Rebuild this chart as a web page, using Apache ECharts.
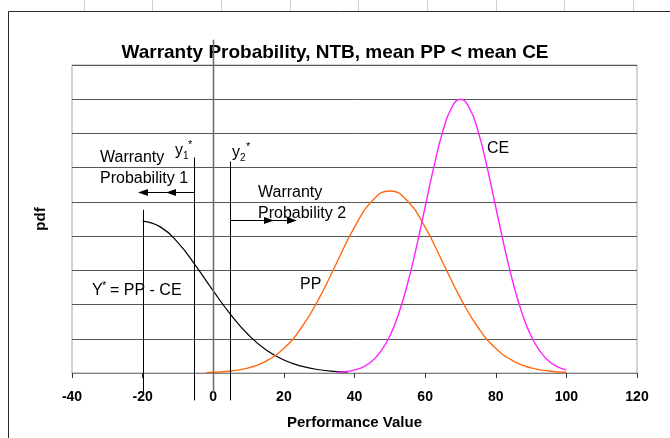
<!DOCTYPE html>
<html>
<head>
<meta charset="utf-8">
<script src="https://cdn.jsdelivr.net/npm/echarts@6/dist/echarts.min.js"></script>
<style>
  html, body { margin: 0; padding: 0; background: #fff; }
  #chart { width: 670px; height: 438px; }
</style>
</head>
<body>
<div id="chart"></div>
<script>
// values (y in gridline units, 9 bands)
const yStarX = [-20, -15, -10, -5, 0, 5, 10, 15, 20, 25, 30, 35, 38]
const yStarY = [4.44, 4.27, 3.81, 3.14, 2.40, 1.70, 1.11, 0.67, 0.38, 0.20, 0.095, 0.042, 0.025]

const ppX = [-2, 0, 5, 10, 15, 20, 25, 30, 35, 40, 45, 50, 55, 60, 65, 70, 75, 80, 85, 90, 95, 100]
const ppY = [0.01, 0.02, 0.06, 0.15, 0.35, 0.72, 1.33, 2.19, 3.23, 4.26, 5.03, 5.32, 5.03, 4.26, 3.23, 2.19, 1.33, 0.72, 0.35, 0.15, 0.06, 0.02]

const ceX = [35, 37.5, 40, 42.5, 45, 47.5, 50, 52.5, 55, 57.5, 60, 62.5, 65, 67.5, 70, 72.5, 75, 77.5, 80, 82.5, 85, 87.5, 90, 92.5, 95, 97.5, 100]
const ceY = [0.02, 0.04, 0.09, 0.18, 0.35, 0.64, 1.08, 1.73, 2.60, 3.66, 4.85, 6.04, 7.06, 7.75, 8.00, 7.75, 7.06, 6.04, 4.85, 3.66, 2.60, 1.73, 1.08, 0.64, 0.35, 0.18, 0.09]

const xMin = -40, xMax = 120, xStep = 20
const yMax = 9
const y1Star = -5.5
const y2Star = 4.8

const font = '"Liberation Sans", Arial, sans-serif'
const toPairs = (xs, ys) => xs.map((x, i) => [x, ys[i]])

const chart = echarts.init(document.getElementById('chart'))

const option = {
  animation: false,
  title: {
    text: 'Warranty Probability, NTB, mean PP < mean CE',
    left: 'center',
    top: 38,
    textStyle: {fontFamily: font, fontSize: 19, fontWeight: 'bold', color: '#000'}
  },
  grid: {left: 72, right: 33, top: 65, bottom: 65, show: true, borderColor: '#a6a6a6', borderWidth: 1},
  xAxis: {
    type: 'value',
    min: xMin,
    max: xMax,
    interval: xStep,
    name: 'Performance Value',
    nameLocation: 'middle',
    nameGap: 42,
    nameTextStyle: {fontFamily: font, fontSize: 15, fontWeight: 'bold', color: '#000'},
    axisLine: {lineStyle: {color: '#808080', width: 1}},
    axisTick: {show: true, length: 5, lineStyle: {color: '#333'}},
    axisLabel: {fontFamily: font, fontSize: 14, fontWeight: 'bold', color: '#000', margin: 17},
    splitLine: {show: false}
  },
  yAxis: {
    type: 'value',
    min: 0,
    max: yMax,
    interval: 1,
    name: 'pdf',
    nameLocation: 'middle',
    nameGap: 24,
    nameTextStyle: {fontFamily: font, fontSize: 15, fontWeight: 'bold', color: '#000'},
    axisLine: {show: false},
    axisTick: {show: false},
    axisLabel: {show: false},
    splitLine: {lineStyle: {color: '#555', width: 1}}
  },
  series: [
    {
      name: 'Y*',
      type: 'line',
      data: toPairs(yStarX, yStarY),
      smooth: true,
      symbol: 'none',
      lineStyle: {color: '#000', width: 1.2}
    },
    {
      name: 'PP',
      type: 'line',
      data: toPairs(ppX, ppY),
      smooth: true,
      symbol: 'none',
      lineStyle: {color: '#ff6a10', width: 1.4}
    },
    {
      name: 'CE',
      type: 'line',
      data: toPairs(ceX, ceY),
      smooth: true,
      symbol: 'none',
      lineStyle: {color: '#ff22ff', width: 1.4}
    }
  ]
}
chart.setOption(option)

// annotations: vertical markers placed through the axes, text/arrows in pixels
const px = (x, y) => chart.convertToPixel({gridIndex: 0}, [x, y])
const refLines = [
  {x: -20, from: -0.55, to: 4.77, color: '#000', width: 1},
  {x: y1Star, from: -0.8, to: 6.3, color: '#000', width: 1},
  {x: 0, from: -0.58, to: 9.74, color: '#6a6a6a', width: 1.5},
  {x: y2Star, from: -0.8, to: 6.18, color: '#000', width: 1}
]
const graphics = []
refLines.forEach(r => {
  const a = px(r.x, r.from), b = px(r.x, r.to)
  const xx = Math.round(a[0]) + 0.5
  graphics.push({type: 'line', shape: {x1: xx, y1: a[1], x2: xx, y2: b[1]}, style: {stroke: r.color, lineWidth: r.width}, z: 10})
})

const text = (t, x, y, size, extra) => ({
  type: 'text', x: x, y: y, z: 20,
  style: Object.assign({text: t, fontFamily: font, fontSize: size, fill: '#000', verticalAlign: 'middle', align: 'left'}, extra || {})
})
graphics.push(
  text('Warranty', 100, 158, 16),
  text('Probability 1', 100, 179, 16),
  text('y', 175, 151, 16), text('1', 183, 156, 10), text('*', 188, 145, 11),
  text('y', 232, 153, 16), text('2', 240, 158, 10), text('*', 246, 147, 11),
  text('Warranty', 258, 193, 16),
  text('Probability 2', 258, 214, 16),
  text('Y', 92, 291, 16), text('*', 102, 286, 11), text('= PP - CE', 110, 291, 16),
  text('PP', 300, 285, 16),
  text('CE', 487, 149, 16)
)

// arrows
const arrowHead = (tip, y, dir) => ({
  type: 'polygon', z: 15,
  shape: {points: [[tip, y], [tip - dir * 10, y - 3.5], [tip - dir * 10, y + 3.5]]},
  style: {fill: '#000'}
})
graphics.push(
  {type: 'line', z: 15, shape: {x1: 194, y1: 192.5, x2: 139, y2: 192.5}, style: {stroke: '#000', lineWidth: 1}},
  arrowHead(138, 192.5, -1), arrowHead(166, 192.5, -1),
  {type: 'line', z: 15, shape: {x1: 230, y1: 220.5, x2: 296, y2: 220.5}, style: {stroke: '#000', lineWidth: 1}},
  arrowHead(274, 220.5, 1), arrowHead(297, 220.5, 1)
)

// outer frame (the worksheet chart border)
graphics.push(
  {type: 'line', shape: {x1: 8.5, y1: 11.5, x2: 670, y2: 11.5}, style: {stroke: '#2a2a2a', lineWidth: 1}},
  {type: 'line', shape: {x1: 8.5, y1: 11.5, x2: 8.5, y2: 438}, style: {stroke: '#2a2a2a', lineWidth: 1}}
)
;[84, 152, 221, 290, 358, 427, 496, 564, 633].forEach(x => {
  graphics.push({type: 'line', shape: {x1: x + 0.5, y1: 0, x2: x + 0.5, y2: 11}, style: {stroke: '#d0d0d0', lineWidth: 1}})
})

chart.setOption({graphic: graphics})
</script>
</body>
</html>
